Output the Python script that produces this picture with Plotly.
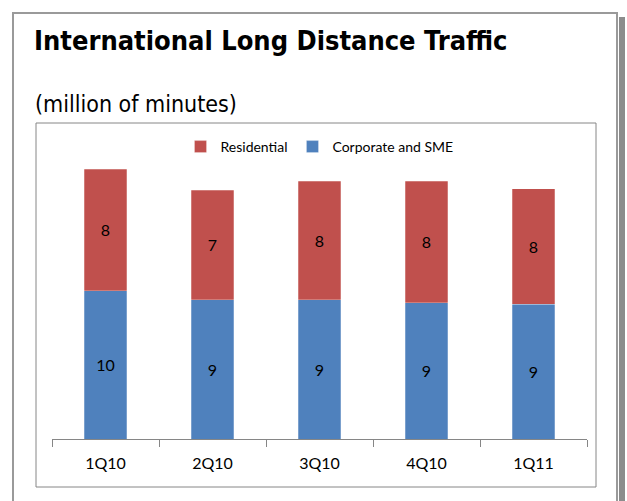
import plotly.graph_objects as go

categories = ["1Q10", "2Q10", "3Q10", "4Q10", "1Q11"]
corporate_sme = [9.9, 9.3, 9.3, 9.1, 9.0]
residential = [8.1, 7.3, 7.9, 8.1, 7.7]

title_text = "International Long Distance Traffic"
subtitle_text = "(million of minutes)"

BLUE = "#4F81BD"
RED = "#C0504D"
GRAY = "#868686"
LABEL_FONT = "Lato, Liberation Sans, sans-serif"

W, H = 627, 501
L, R, T, B = 52, 40, 139, 62
PW, PH = W - L - R, H - T - B


def fx(px):
    return (px - L) / PW


def fy(py):
    return (H - B - py) / PH


fig = go.Figure()
fig.add_trace(go.Bar(
    x=categories, y=corporate_sme, name="Corporate and SME",
    marker=dict(color=BLUE, line=dict(color="rgba(255,255,255,0.5)", width=0.5)),
    text=corporate_sme, texttemplate="%{y:.0f}", textposition="inside",
    insidetextanchor="middle", textangle=0,
    textfont=dict(family=LABEL_FONT, size=16, color="black"),
))
fig.add_trace(go.Bar(
    x=categories, y=residential, name="Residential",
    marker=dict(color=RED, line=dict(color="rgba(255,255,255,0.5)", width=0.5)),
    text=residential, texttemplate="%{y:.0f}", textposition="inside",
    insidetextanchor="middle", textangle=0,
    textfont=dict(family=LABEL_FONT, size=16, color="black"),
))

shapes = [
    # outer frame
    dict(type="rect", xref="paper", yref="paper",
         x0=fx(13), x1=fx(617), y0=fy(13), y1=fy(520),
         line=dict(color="#9a9a9a", width=2), fillcolor="rgba(0,0,0,0)", layer="below"),
    # shadow
    dict(type="rect", xref="paper", yref="paper",
         x0=fx(619), x1=fx(625), y0=fy(17), y1=fy(520),
         line=dict(width=0), fillcolor="#8c8c8c", layer="below"),
    # inner chart frame
    dict(type="rect", xref="paper", yref="paper",
         x0=fx(36), x1=fx(596), y0=fy(123), y1=fy(487),
         line=dict(color=GRAY, width=1), fillcolor="rgba(0,0,0,0)", layer="below"),
]

annotations = [
    dict(text=f"<b>{title_text}</b>", xref="paper", yref="paper",
         x=fx(32), y=fy(58), xanchor="left", yanchor="bottom", showarrow=False,
         font=dict(family="DejaVu Sans Condensed, Liberation Sans, sans-serif", size=27, color="black")),
    dict(text=subtitle_text, xref="paper", yref="paper",
         x=fx(33), y=fy(119), xanchor="left", yanchor="bottom", showarrow=False,
         font=dict(family="DejaVu Sans Condensed, Liberation Sans, sans-serif", size=23, color="black")),
]

fig.update_layout(
    width=W, height=H,
    margin=dict(l=L, r=R, t=T, b=B),
    barmode="stack", bargap=0.6,
    paper_bgcolor="white", plot_bgcolor="white",
    showlegend=True,
    legend=dict(orientation="h", x=0.5, xanchor="center", y=fy(147), yanchor="middle",
                traceorder="reversed",
                font=dict(family=LABEL_FONT, size=14, color="black"),
                bgcolor="rgba(0,0,0,0)", itemwidth=30, tracegroupgap=0),
    xaxis=dict(showline=True, linecolor=GRAY, linewidth=1, ticks="outside",
               tickson="boundaries", ticklen=7, tickcolor=GRAY, tickwidth=1,
               ticklabelstandoff=10, showgrid=False, zeroline=False,
               tickfont=dict(family=LABEL_FONT, size=16, color="black")),
    yaxis=dict(range=[0, 20], visible=False, showgrid=False, zeroline=False),
    shapes=shapes, annotations=annotations,
)

fig.write_html("out.html")
